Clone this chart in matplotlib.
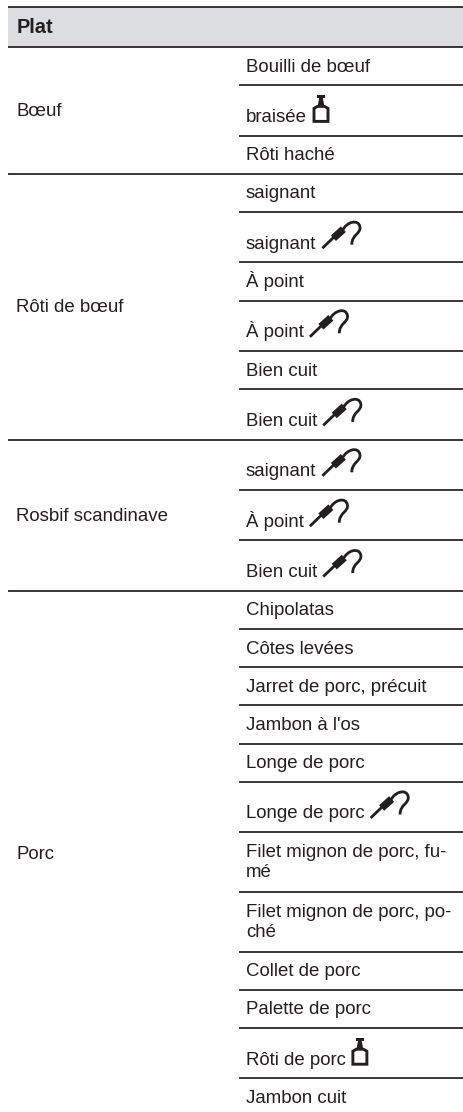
import matplotlib
matplotlib.use("Agg")
import matplotlib.pyplot as plt
from matplotlib.path import Path
from matplotlib.patches import PathPatch, Rectangle, Polygon

plt.rcParams['font.family'] = ['Liberation Sans', 'DejaVu Sans']

HEADER = "Plat"
GROUPS = ["Bœuf", "Rôti de bœuf", "Rosbif scandinave", "Porc"]
GROUP_ITEMS = [
    ["Bouilli de bœuf", "braisée", "Rôti haché"],
    ["saignant", "saignant", "À point", "À point", "Bien cuit", "Bien cuit"],
    ["saignant", "À point", "Bien cuit"],
    ["Chipolatas", "Côtes levées", "Jarret de porc, précuit", "Jambon à l'os",
     "Longe de porc", "Longe de porc", "Filet mignon de porc, fu-\nmé",
     "Filet mignon de porc, po-\nché", "Collet de porc", "Palette de porc",
     "Rôti de porc", "Jambon cuit"],
]
GROUP_ICONS = [
    ["", "weight", ""],
    ["", "probe", "", "probe", "", "probe"],
    ["probe", "probe", "probe"],
    ["", "", "", "", "", "probe", "", "", "", "", "weight", ""],
]

W, H = 463, 1112
DARK = "#231f20"
FS = 13.4
LW = 1.25
LEFT, MID, TEXT_L, TEXT_R = 8, 238.5, 16.5, 246

fig = plt.figure(figsize=(W / 100, H / 100), dpi=100, facecolor="white")
ax = fig.add_axes([0, 0, 1, 1])
ax.set_xlim(0, W)
ax.set_ylim(H, 0)
ax.axis("off")


def hline(y, x0):
    ax.plot([x0, W], [y, y], color=DARK, lw=LW, solid_capstyle="butt")


def draw_weight(x, y):
    """Weight glyph; (x, y) = left end on the text baseline."""
    ax.add_patch(Polygon([(x + 1, y - 0.5), (x + 15, y - 0.5), (x + 15, y - 13.5),
                          (x + 11.5, y - 15.5), (x + 4.5, y - 15.5), (x + 1, y - 13.5)],
                         closed=True, fc="none", ec=DARK, lw=2.1, joinstyle="miter"))
    ax.add_patch(Polygon([(x + 4.5, y - 15), (x + 11.5, y - 15), (x + 9.8, y - 24),
                          (x + 6.2, y - 24)], closed=True, fc=DARK, ec="none"))
    ax.add_patch(Rectangle((x + 3.8, y - 26.5), 8.4, 3, fc=DARK, ec="none"))


def draw_probe(x, y):
    """Probe glyph; (x, y) = left end on the text baseline."""
    ax.plot([x, x + 13], [y - 0.5, y - 13], color=DARK, lw=2.0, solid_capstyle="butt")
    ax.plot([x + 11, x + 21], [y - 10.5, y - 19.5], color=DARK, lw=5.4, solid_capstyle="butt")
    hook = Path([(x + 20, y - 18), (x + 24, y - 27), (x + 36, y - 30), (x + 37.5, y - 22),
                 (x + 39, y - 15), (x + 29, y - 14), (x + 29.5, y - 4)],
                [Path.MOVETO, Path.CURVE4, Path.CURVE4, Path.CURVE4,
                 Path.CURVE4, Path.CURVE4, Path.CURVE4])
    ax.add_patch(PathPatch(hook, fc="none", ec=DARK, lw=2.0, capstyle="butt"))


HEADER_TOP, HEADER_BOTTOM = 7, 47
ax.add_patch(Rectangle((LEFT, HEADER_TOP), W - LEFT, HEADER_BOTTOM - HEADER_TOP,
                       fc="#dcddde", ec="none"))
hline(HEADER_TOP, LEFT)
hline(HEADER_BOTTOM, LEFT)
ax.text(TEXT_L, 33, HEADER, fontsize=14.4, fontweight="bold", color=DARK, va="baseline")

fig.canvas.draw()
renderer = fig.canvas.get_renderer()

y = HEADER_BOTTOM
for group, items, icons in zip(GROUPS, GROUP_ITEMS, GROUP_ICONS):
    group_top = y
    for i, (item, icon) in enumerate(zip(items, icons)):
        if icon:
            height = 50.4
        elif "\n" in item:
            height = 59.7
        else:
            height = 38.2
        if icon:
            baseline = y + height - 13.7
        else:
            baseline = y + 24.6
        lines = item.split("\n")
        for k, line in enumerate(lines):
            t = ax.text(TEXT_R, baseline + k * 20, line, fontsize=FS, color=DARK, va="baseline")
        if icon:
            end = t.get_window_extent(renderer).x1
            (draw_weight if icon == "weight" else draw_probe)(end + 6, baseline)
        y += height
        if i < len(items) - 1:
            hline(y, MID)
    if group != GROUPS[-1]:
        hline(y, LEFT)
    ax.text(TEXT_L, (group_top + y) / 2 + 5.5, group, fontsize=FS, color=DARK, va="baseline")

fig.savefig("out.png", dpi=100, facecolor="white")
